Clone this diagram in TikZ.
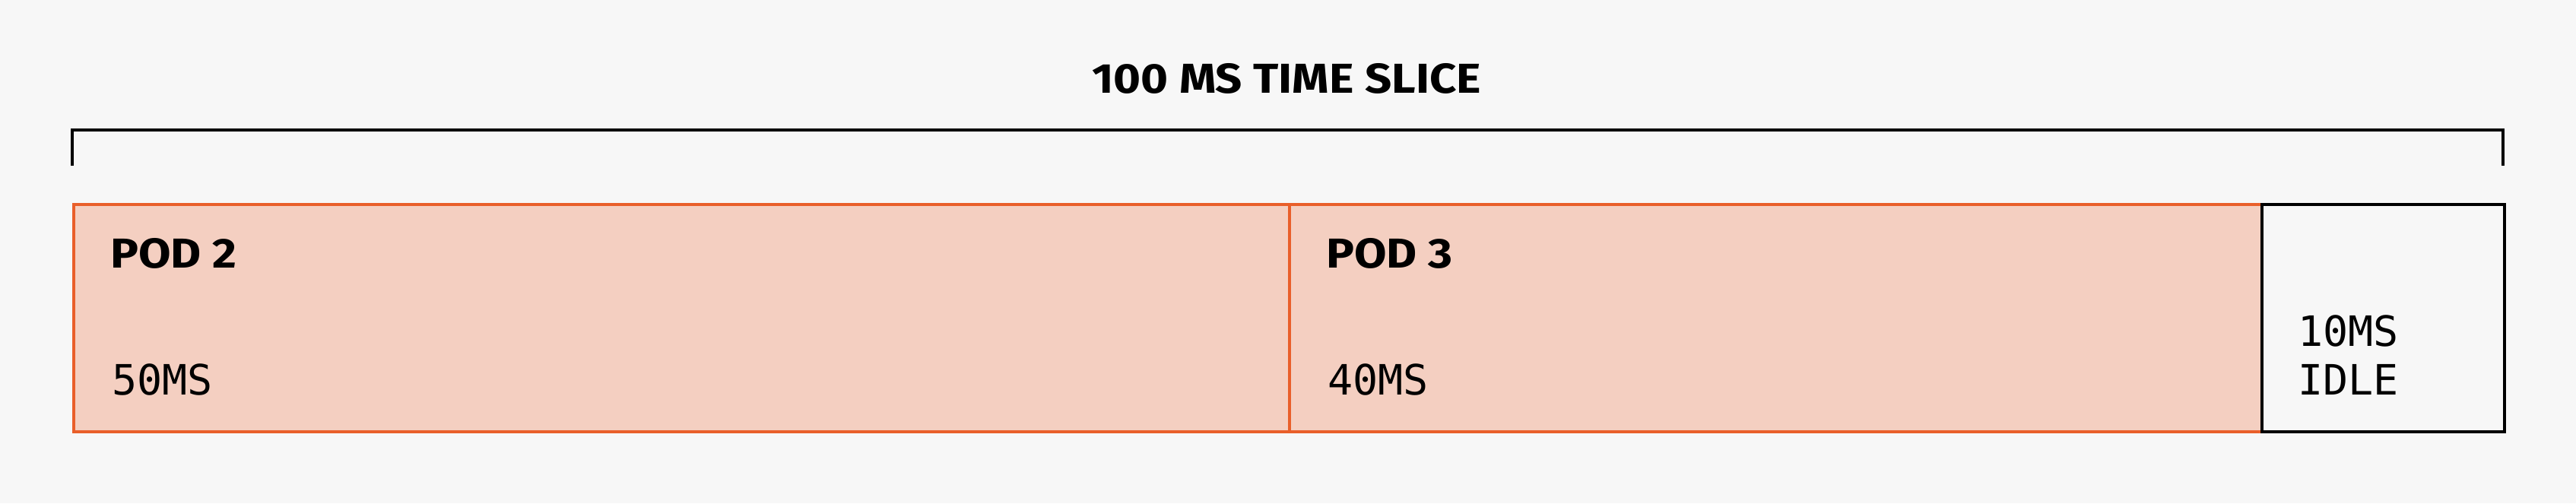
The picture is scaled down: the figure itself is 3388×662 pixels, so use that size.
\documentclass[tikz,border=0pt]{standalone}
\usepackage{fontspec}
\newfontfamily\headfont{Fira Sans}[FakeStretch=1.12]
\newfontfamily\monofnt{DejaVu Sans Mono}
\definecolor{bgc}{HTML}{F7F7F7}
\definecolor{podfill}{HTML}{F4CFC1}
\definecolor{podline}{HTML}{E95F2A}
\begin{document}
\begin{tikzpicture}[x=1pt,y=-1pt,
  podbox/.style={draw=podline,fill=podfill,line width=3.5pt,anchor=north west,inner sep=0pt},
  idlebox/.style={draw=black,fill=bgc,line width=4pt,anchor=north west,inner sep=0pt},
  headtxt/.style={font=\headfont\bfseries\fontsize{55}{62}\selectfont,inner sep=0pt},
  monotxt/.style={font=\monofnt\fontsize{55}{65}\selectfont,inner sep=0pt,anchor=base west}]
\fill[bgc] (0,0) rectangle (3388,662);
\useasboundingbox (0,0) rectangle (3388,662);
% bracket
\coordinate (bl) at (95,218);
\coordinate (tl) at (95,171);
\coordinate (tr) at (3292,171);
\coordinate (br) at (3292,218);
\draw[line width=4pt] (bl) -- (tl) -- (tr) -- (br);
\node[headtxt,anchor=base] (title) at (1692,122.7) {100 MS TIME SLICE};
% boxes
\node[podbox,minimum width=1599pt,minimum height=299pt] (pod2) at (95,267) {};
\node[podbox,minimum width=1279pt,minimum height=299pt] (pod3) at (1694,267) {};
\node[idlebox,minimum width=319pt,minimum height=299pt] (idle) at (2973,267) {};
% texts
\node[headtxt,anchor=base west] (p2) at (145,352.5) {POD 2};
\node[monotxt] (p2t) at (147,519) {50MS};
\node[headtxt,anchor=base west] (p3) at (1744,352.5) {POD 3};
\node[monotxt] (p3t) at (1746,519) {40MS};
\node[monotxt] (it1) at (3022,455) {10MS};
\node[monotxt] (it2) at (3022,519) {IDLE};
\end{tikzpicture}
\end{document}
